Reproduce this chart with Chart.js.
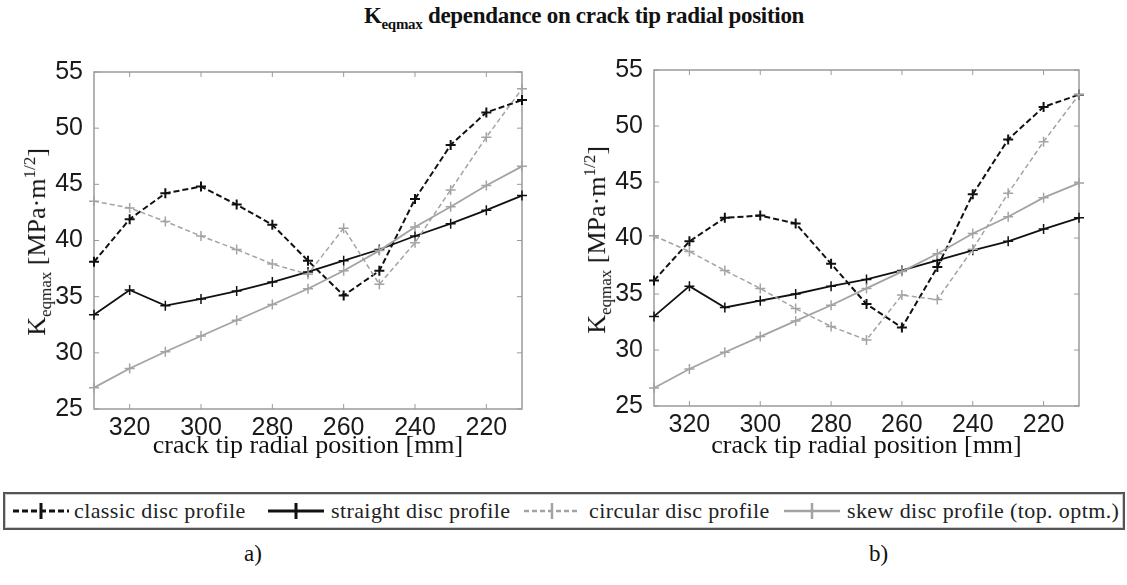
<!DOCTYPE html>
<html>
<head>
<meta charset="utf-8">
<script src="https://cdn.jsdelivr.net/npm/chart.js@4.4.0/dist/chart.umd.min.js"></script>
<style>
  body { margin: 0; background: #fff; width: 1127px; height: 585px; position: relative; overflow: hidden; }
  .abs { position: absolute; }
  #title { left: 0; width: 1168px; top: 3px; text-align: center; font: bold 23px "Liberation Serif", serif; color: #111; letter-spacing: -0.3px; }
  .ytitle { font: 26px "Liberation Serif", serif; color: #111; transform: rotate(-90deg); transform-origin: center; white-space: nowrap; width: 340px; text-align: center; }
  #legend { left: 3px; top: 492px; width: 1118px; height: 34px; border: 2px solid #555; box-shadow: inset 0 0 0 1px #ccc; font: 22px "Liberation Serif", serif; color: #222; white-space: nowrap; }
  #legend span { position: absolute; top: 4px; letter-spacing: 0.4px; }
  #legend svg { position: absolute; top: 7px; }
  .lab { font: 23px "Liberation Serif", serif; color: #111; top: 541px; }
</style>
</head>
<body>
<div id="title" class="abs">K<sub style="font-size:15px">eqmax</sub> dependance on crack tip radial position</div>

<canvas id="chartA" class="abs" style="left:0;top:40px" width="560" height="430"></canvas>
<canvas id="chartB" class="abs" style="left:560px;top:40px" width="560" height="430"></canvas>

<div class="abs ytitle" style="left:-132px;top:224px">K<sub style="font-size:17px">eqmax</sub> [MPa·m<sup style="font-size:17px">1/2</sup>]</div>
<div class="abs ytitle" style="left:428px;top:222px">K<sub style="font-size:17px">eqmax</sub> [MPa·m<sup style="font-size:17px">1/2</sup>]</div>

<div id="legend" class="abs"></div>

<div class="abs lab" style="left:244px">a)</div>
<div class="abs lab" style="left:869px">b)</div>

<script>
// crack tip radial position [mm]
var radialPos = [330, 320, 310, 300, 290, 280, 270, 260, 250, 240, 230, 220, 210];
var xTicks = [320, 300, 280, 260, 240, 220];
var yTicks = [25, 30, 35, 40, 45, 50, 55];

// a)
var classicA  = [38.1, 41.9, 44.2, 44.8, 43.2, 41.4, 38.2, 35.1, 37.3, 43.7, 48.5, 51.4, 52.5];
var straightA = [33.4, 35.6, 34.2, 34.8, 35.5, 36.3, 37.2, 38.2, 39.2, 40.4, 41.5, 42.7, 44.0];
var circularA = [43.5, 42.9, 41.7, 40.4, 39.2, 37.9, 37.0, 41.1, 36.1, 39.8, 44.5, 49.2, 53.5];
var skewA     = [26.9, 28.6, 30.1, 31.5, 32.9, 34.3, 35.7, 37.3, 39.1, 41.2, 43.0, 44.9, 46.6];

// b)
var classicB  = [36.2, 39.7, 41.8, 42.0, 41.3, 37.7, 34.1, 32.0, 37.4, 43.9, 48.8, 51.7, 52.8];
var straightB = [33.0, 35.7, 33.8, 34.4, 35.0, 35.7, 36.3, 37.1, 38.0, 38.9, 39.7, 40.8, 41.8];
var circularB = [40.2, 38.8, 37.1, 35.5, 33.7, 32.1, 30.9, 34.9, 34.5, 39.0, 44.0, 48.6, 52.8];
var skewB     = [26.6, 28.3, 29.8, 31.2, 32.6, 34.0, 35.5, 37.0, 38.6, 40.4, 41.9, 43.6, 44.9];

var seriesNames = ["classic disc profile", "straight disc profile", "circular disc profile", "skew disc profile (top. optm.)"];
var seriesColors = ["#111111", "#111111", "#a3a3a3", "#a3a3a3"];
var seriesDash = [[6, 3], [], [5, 3], []];
var seriesWidth = [2, 1.8, 1.5, 1.8];

function pts(vals) {
  return vals.map(function(v, i) { return { x: radialPos[i], y: v }; });
}

// MATLAB style box with inward ticks
var boxTicks = {
  id: 'boxTicks',
  beforeDatasetsDraw: function(chart) {
    var ctx = chart.ctx, a = chart.chartArea;
    var xs = chart.scales.x, ys = chart.scales.y;
    ctx.save();
    ctx.strokeStyle = '#9a9a9a';
    ctx.lineWidth = 1.5;
    ctx.strokeRect(a.left, a.top, a.right - a.left, a.bottom - a.top);
    ctx.lineWidth = 1;
    ctx.beginPath();
    xTicks.forEach(function(v) {
      var px = xs.getPixelForValue(v);
      ctx.moveTo(px, a.bottom); ctx.lineTo(px, a.bottom - 5);
      ctx.moveTo(px, a.top); ctx.lineTo(px, a.top + 5);
    });
    yTicks.forEach(function(v) {
      var py = ys.getPixelForValue(v);
      ctx.moveTo(a.left, py); ctx.lineTo(a.left + 5, py);
      ctx.moveTo(a.right, py); ctx.lineTo(a.right - 5, py);
    });
    ctx.stroke();
    ctx.restore();
  }
};

function makeChart(id, data, pad) {
  var ctx = document.getElementById(id).getContext('2d');
  return new Chart(ctx, {
    type: 'line',
    data: {
      datasets: data.map(function(vals, k) {
        return {
          label: seriesNames[k],
          data: pts(vals),
          borderColor: seriesColors[k],
          backgroundColor: seriesColors[k],
          borderWidth: seriesWidth[k],
          borderDash: seriesDash[k],
          pointStyle: 'cross',
          pointRadius: 5,
          pointBorderWidth: k === 0 ? 2 : 1.5,
          pointBorderColor: seriesColors[k],
          tension: 0,
          clip: false
        };
      }).reverse()
    },
    options: {
      responsive: false,
      animation: false,
      layout: { padding: { top: pad.top, right: pad.right, left: 0, bottom: 0 } },
      plugins: { legend: { display: false }, tooltip: { enabled: false } },
      scales: {
        x: {
          type: 'linear',
          reverse: true,
          min: 210, max: 330,
          afterBuildTicks: function(s) { s.ticks = xTicks.map(function(v) { return { value: v }; }); },
          afterFit: function(s) { s.height = pad.xh; },
          grid: { display: false },
          border: { display: false },
          ticks: { color: '#1a1a1a', padding: -4, maxRotation: 0, font: { family: 'Liberation Sans', size: 25 } },
          title: { display: true, text: 'crack tip radial position [mm]', color: '#111', padding: { top: 0, bottom: 8 }, font: { family: 'Liberation Serif', size: 26 } }
        },
        y: {
          min: 25, max: 55,
          afterBuildTicks: function(s) { s.ticks = yTicks.map(function(v) { return { value: v }; }); },
          afterFit: function(s) { s.width = pad.left; },
          grid: { display: false },
          border: { display: false },
          ticks: { color: '#1a1a1a', padding: 3, font: { family: 'Liberation Sans', size: 25 } }
        }
      }
    },
    plugins: [boxTicks]
  });
}

makeChart('chartA', [classicA, straightA, circularA, skewA], { top: 32, right: 38, left: 94, xh: 61 });
makeChart('chartB', [classicB, straightB, circularB, skewB], { top: 30, right: 41, left: 94, xh: 64 });

// shared legend, items placed like the original
var legendSample = [8, 263, 519, 779];
var legendText = [69, 326, 584, 842];
var legend = document.getElementById('legend');
seriesNames.forEach(function(name, k) {
  var dash = seriesDash[k].length ? ' stroke-dasharray="' + seriesDash[k].join(' ') + '"' : '';
  var w = k < 2 ? 3 : 2.5;
  legend.insertAdjacentHTML('beforeend',
    '<svg width="56" height="20" style="left:' + legendSample[k] + 'px"><line x1="0" y1="10" x2="56" y2="10" stroke="' + seriesColors[k] + '" stroke-width="' + w + '"' + dash + '/>' +
    '<line x1="28" y1="2" x2="28" y2="18" stroke="' + seriesColors[k] + '" stroke-width="' + w + '"/></svg>' +
    '<span style="left:' + legendText[k] + 'px">' + name + '</span>');
});
</script>
</body>
</html>
